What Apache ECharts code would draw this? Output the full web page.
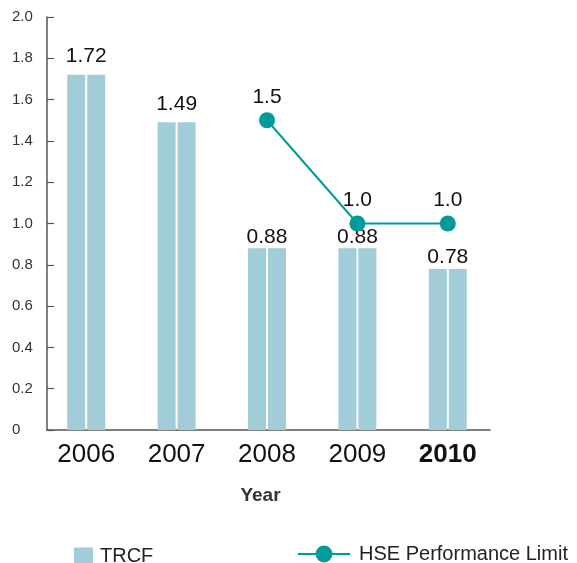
<!DOCTYPE html>
<html>
<head>
<meta charset="utf-8">
<script src="https://cdn.jsdelivr.net/npm/echarts@6/dist/echarts.min.js"></script>
<style>
  html, body { margin: 0; padding: 0; background: #fff; }
  #chart { width: 577px; height: 563px; }
</style>
</head>
<body>
<div id="chart"></div>
<script>
// data
var years = [2006, 2007, 2008, 2009, 2010];
var trcf = [1.72, 1.49, 0.88, 0.88, 0.78];
var hseLimit = [null, null, 1.5, 1.0, 1.0];
var yTicks = [0, 0.2, 0.4, 0.6, 0.8, 1.0, 1.2, 1.4, 1.6, 1.8, 2.0];

var barColor = '#a0cdd8';
var lineColor = '#009b9a';
var font = 'Liberation Sans, Arial, sans-serif';

var chart = echarts.init(document.getElementById('chart'), null, { renderer: 'canvas' });

// label sits closer to the short bars
var barData = trcf.map(function (v, i) {
    return { value: [years[i], v], label: { distance: i < 2 ? 8 : 1 } };
});
var barData2 = trcf.map(function (v, i) { return [years[i], v]; });
var lineData = hseLimit.map(function (v, i) { return [years[i], v]; });

var option = {
    animation: false,
    grid: { left: 47, right: 87, top: 17, bottom: 133 },
    legend: [
        {
            data: ['TRCF'],
            left: 74, top: 546, padding: 0,
            icon: 'rect',
            itemWidth: 19, itemHeight: 17,
            textStyle: { fontSize: 20, color: '#222', fontFamily: font, padding: [0, 0, 0, 2] }
        },
        {
            data: ['HSE Performance Limit'],
            left: 297, top: 544, padding: 0,
            itemWidth: 52, itemHeight: 21,
            textStyle: { fontSize: 20, color: '#222', fontFamily: font, padding: [0, 0, 0, 4] }
        }
    ],
    xAxis: {
        type: 'value',
        min: 2005.566,
        max: 2010.467,
        splitLine: { show: false },
        name: 'Year',
        nameLocation: 'middle',
        nameGap: 56,
        nameTextStyle: { fontSize: 19, fontWeight: 'bold', color: '#333', fontFamily: font, padding: [0, 16, 0, 0] },
        axisLine: { lineStyle: { color: '#555', width: 1.5 } },
        axisTick: { show: false },
        axisLabel: {
            customValues: years,
            fontSize: 26, color: '#111', margin: 12, fontFamily: font,
            formatter: function (v) {
                return v === years[years.length - 1] ? '{b|' + v + '}' : String(v);
            },
            rich: { b: { fontSize: 26, fontWeight: 'bold', color: '#111', fontFamily: font } }
        }
    },
    yAxis: {
        type: 'value',
        min: yTicks[0],
        max: yTicks[yTicks.length - 1],
        interval: 0.2,
        splitLine: { show: false },
        axisLine: { show: true, lineStyle: { color: '#555', width: 1.5 } },
        axisTick: { show: true, inside: true, length: 7, lineStyle: { color: '#555', width: 1.2 } },
        axisLabel: {
            align: 'left',
            margin: 35,
            fontSize: 15,
            color: '#333',
            fontFamily: font,
            formatter: function (v) { return v === 0 ? '0' : v.toFixed(1); }
        }
    },
    series: [
        {
            name: 'TRCF',
            type: 'bar',
            data: barData,
            barWidth: 18,
            barGap: '11%',
            itemStyle: { color: barColor },
            label: {
                show: true,
                position: 'top',
                offset: [10, 0],
                fontSize: 21,
                color: '#111',
                fontFamily: font,
                formatter: function (p) { return p.value[1].toFixed(2); }
            }
        },
        {
            name: 'TRCF',
            type: 'bar',
            data: barData2,
            barWidth: 18,
            itemStyle: { color: barColor }
        },
        {
            name: 'HSE Performance Limit',
            type: 'line',
            data: lineData,
            symbol: 'circle',
            symbolSize: 16,
            itemStyle: { color: lineColor },
            lineStyle: { color: lineColor, width: 2 },
            label: {
                show: true,
                position: 'top',
                distance: 5,
                fontSize: 21,
                color: '#111',
                fontFamily: font,
                formatter: function (p) { return p.value[1].toFixed(1); }
            }
        }
    ]
};

chart.setOption(option);
</script>
</body>
</html>
